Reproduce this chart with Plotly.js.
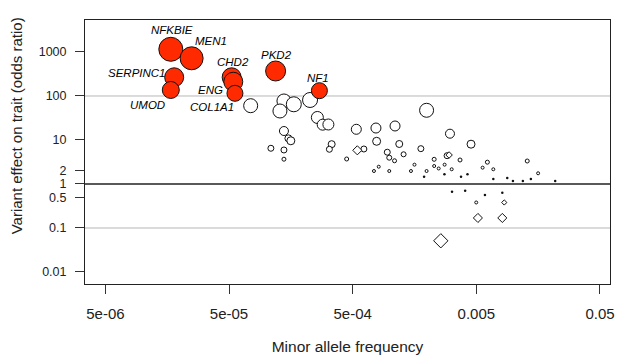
<!DOCTYPE html>
<html>
<head>
<meta charset="utf-8">
<script src="https://cdn.plot.ly/plotly-3.0.1.min.js"></script>
<style>html,body{margin:0;padding:0;background:#fff;}#chart{width:619px;height:360px;}</style>
</head>
<body>
<div id="chart"></div>
<script>
// ---- Data ----
// Named genes (red, labelled)
const geneNames = ["NFKBIE", "MEN1", "SERPINC1", "UMOD", "CHD2", "ENG", "COL1A1", "PKD2", "NF1"];
const geneMAF   = [1.69e-5, 2.49e-5, 1.80e-5, 1.69e-5, 5.25e-5, 5.41e-5, 5.58e-5, 1.19e-4, 2.69e-4];
const geneOR    = [1151, 719, 266, 137, 266, 211, 115, 370, 132];
const geneWeight = [24, 23, 19, 17, 19, 19, 16, 20, 16];

// Other variants (open circles)
const otherMAF = [7.48e-5, 1.39e-4, 1.29e-4, 1.67e-4, 2.26e-4, 2.59e-4, 2.86e-4, 3.18e-4,
  5.35e-4, 7.71e-4, 1.10e-3, 1.98e-3, 3.06e-3, 4.53e-3, 7.81e-4, 1.19e-3,
  1.39e-4, 1.51e-4, 1.58e-4, 1.09e-4, 1.39e-4, 1.39e-4, 3.38e-4, 3.24e-4,
  4.47e-4, 6.16e-4, 9.52e-4, 9.88e-4, 1.09e-3, 1.29e-3, 1.78e-3, 2.90e-3,
  2.28e-3, 3.69e-3, 7.43e-4, 8.12e-4, 9.88e-4, 1.48e-3, 1.58e-3, 1.98e-3,
  2.28e-3, 2.48e-3, 2.77e-3, 3.16e-3, 5.62e-3, 6.14e-3, 6.86e-3, 1.29e-2,
  1.58e-2, 4.99e-3];
const otherOR = [60.2, 77, 45.6, 64.8, 81.1, 32.5, 22.3, 22.5,
  17.5, 18.7, 20.8, 47.3, 13.9, 8.03, 9.34, 8.11,
  16.0, 10.9, 9.59, 6.48, 5.93, 3.66, 8.03, 6.15,
  3.70, 6.24, 5.28, 3.96, 3.37, 4.73, 6.35, 4.40,
  3.64, 3.51, 1.97, 2.47, 1.97, 1.97, 2.75, 1.97,
  2.56, 2.25, 2.75, 2.16, 2.35, 3.13, 2.16, 3.33,
  1.75, 0.38];
const otherWeight = [14, 14, 14, 15, 15, 12, 11, 11,
  10, 10, 10, 14, 9, 8, 8, 7,
  9, 7, 8, 6, 6, 4, 7, 6,
  4, 6, 6, 5, 4, 5, 6, 6,
  4, 4, 3, 3, 3, 3, 3, 3,
  3, 3, 3, 3, 3, 4, 3, 4,
  3, 3];

// Variants shown as diamonds
const diamondMAF = [5.45e-4, 3.01e-3, 8.41e-3, 5.15e-3, 8.11e-3, 2.58e-3];
const diamondOR  = [5.83, 4.56, 0.380, 0.169, 0.169, 0.0512];
const diamondWeight = [7, 5, 4, 7, 7, 11];

// Tiny variants (dots)
const dotMAF = [1.89e-3, 2.76e-3, 3.76e-3, 4.24e-3, 6.86e-3, 8.89e-3, 9.89e-3, 1.19e-2,
  1.38e-2, 2.17e-2, 3.18e-3, 4.06e-3, 5.87e-3, 8.11e-3];
const dotOR  = [1.47, 1.67, 1.47, 1.67, 1.29, 1.37, 1.17, 1.17,
  1.29, 1.17, 0.668, 0.705, 0.562, 0.634];

// Axis ticks and titles
const xTickVals = [5e-6, 5e-5, 5e-4, 5e-3, 5e-2];
const xTickText = ["5e-06", "5e-05", "5e-04", "0.005", "0.05"];
const yTickVals = [0.01, 0.1, 0.5, 1, 2, 10, 100, 1000];
const yTickText = ["0.01", "0.1", "0.5", "1", "2", "10", "100", "1000"];
const xTitle = "Minor allele frequency";
const yTitle = "Variant effect on trait (odds ratio)";
const greyLines = [100, 0.1];
const blackLines = [1];

// ---- Styles ----
const FONT = "Liberation Sans, Arial, sans-serif";
const RED = "#ff2a00";
const labelOffsets = {
  NFKBIE: [1, 19], MEN1: [19, 17], SERPINC1: [-37, 4], UMOD: [-23, -15],
  CHD2: [1, 15], ENG: [-23, -8], COL1A1: [-23, -14], PKD2: [1, 16], NF1: [-1, 13]
};

const traces = [
  {
    x: otherMAF, y: otherOR, type: "scatter", mode: "markers", hoverinfo: "skip",
    marker: { symbol: "circle", size: otherWeight, color: "#ffffff", opacity: 1, line: { color: "#111", width: 1 } }
  },
  {
    x: diamondMAF, y: diamondOR, type: "scatter", mode: "markers", hoverinfo: "skip",
    marker: { symbol: "diamond", size: diamondWeight, color: "#ffffff", opacity: 1, line: { color: "#111", width: 1 } }
  },
  {
    x: dotMAF, y: dotOR, type: "scatter", mode: "markers", hoverinfo: "skip",
    marker: { symbol: "circle", size: 2.5, color: "#111", opacity: 1, line: { width: 0 } }
  },
  {
    x: geneMAF, y: geneOR, type: "scatter", mode: "markers", hoverinfo: "skip",
    marker: { symbol: "circle", size: geneWeight, color: RED, opacity: 1, line: { color: "#111", width: 1 } }
  }
];

const annotations = geneNames.map((g, i) => ({
  x: Math.log10(geneMAF[i]), y: Math.log10(geneOR[i]), xref: "x", yref: "y",
  text: g, showarrow: false, xshift: labelOffsets[g][0], yshift: labelOffsets[g][1],
  font: { family: FONT, size: 11.5, color: "#000", style: "italic" }
}));
// y-axis title (placed as in the reference, slightly above the plot's centre)
annotations.push({
  xref: "paper", yref: "paper", x: -0.13, y: 0.60, xanchor: "center", yanchor: "middle",
  text: yTitle, textangle: -90, showarrow: false,
  font: { family: FONT, size: 15, color: "#222" }
});

const shapes = [];
greyLines.forEach(v => shapes.push({ type: "line", xref: "paper", x0: 0, x1: 1, yref: "y", y0: v, y1: v,
  line: { color: "#b8b8b8", width: 1 }, layer: "below" }));
blackLines.forEach(v => shapes.push({ type: "line", xref: "paper", x0: 0, x1: 1, yref: "y", y0: v, y1: v,
  line: { color: "#222", width: 1.3 }, layer: "below" }));

const layout = {
  width: 619, height: 360,
  margin: { l: 85, r: 9, t: 20, b: 76 },
  paper_bgcolor: "#fff", plot_bgcolor: "#fff",
  showlegend: false,
  font: { family: FONT, color: "#222" },
  xaxis: {
    type: "log", range: [-5.466, -1.22],
    tickvals: xTickVals, ticktext: xTickText,
    ticks: "outside", ticklen: 9, tickwidth: 1, tickcolor: "#333",
    showgrid: false, zeroline: false,
    showline: true, linecolor: "#222", linewidth: 1, mirror: true,
    tickfont: { size: 15, color: "#222" },
    ticklabelstandoff: 7,
    title: { text: xTitle, font: { size: 15.5, color: "#222" }, standoff: 20 }
  },
  yaxis: {
    type: "log", range: [-2.273, 3.727],
    tickvals: yTickVals, ticktext: yTickText,
    ticks: "outside", ticklen: 9, tickwidth: 1, tickcolor: "#333",
    showgrid: false, zeroline: false,
    showline: true, linecolor: "#222", linewidth: 1, mirror: true,
    tickfont: { size: 12.5, color: "#222" },
    ticklabelstandoff: 6
  },
  shapes: shapes,
  annotations: annotations
};

Plotly.newPlot("chart", traces, layout, { displayModeBar: false, staticPlot: true });
</script>
</body>
</html>
